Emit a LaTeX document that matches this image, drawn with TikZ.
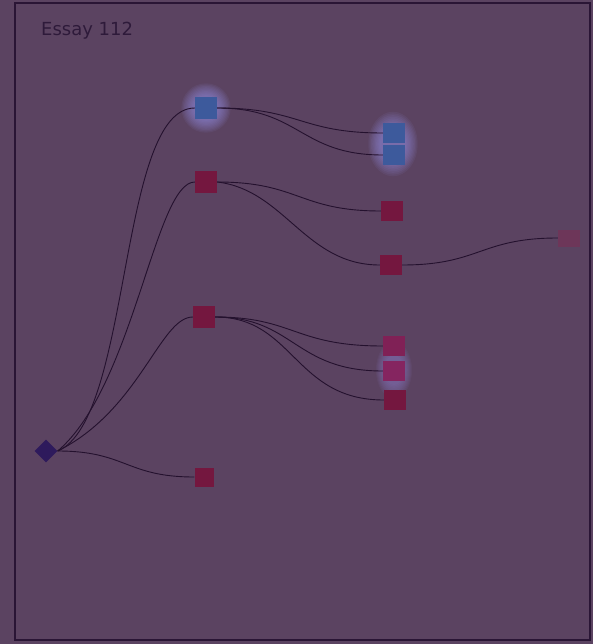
\documentclass[tikz,border=0pt]{standalone}
\usepackage{fontspec}
\setmainfont{DejaVu Sans}
\usetikzlibrary{shapes.geometric}
\definecolor{bgc}{HTML}{5B4361}
\definecolor{framec}{HTML}{2A1535}
\definecolor{edgec}{HTML}{24112E}
\definecolor{bluec}{HTML}{3D5A9C}
\definecolor{redc}{HTML}{74173F}
\definecolor{pinkc}{HTML}{852560}
\definecolor{fadec}{HTML}{6D3659}
\definecolor{rootc}{HTML}{2E1A5C}
\definecolor{glowc}{HTML}{9A96F0}
\definecolor{glowp}{HTML}{8E7CC8}
\definecolor{textc}{HTML}{2E1A3A}
\tikzset{
  box/.style={rectangle, draw=none, minimum width=22pt, minimum height=22pt, inner sep=0pt},
  bluebox/.style={box, fill=bluec},
  redbox/.style={box, fill=redc},
  link/.style={draw=edgec, line width=0.9pt},
  glowlayer/.style={fill=#1, fill opacity=0.075},
}
\begin{document}
\begin{tikzpicture}[x=1pt,y=-1pt]
\useasboundingbox (0,0) rectangle (593,644);
\fill[bgc] (0,0) rectangle (593,644);
\draw[framec, line width=2.2pt] (15,3) rectangle (590,640);
\node[anchor=base west, text=textc, font=\fontsize{18}{21}\selectfont, inner sep=0pt] (title) at (41,36) {Essay 112};
% glows
\foreach \s in {0.5,0.55,...,1.0} {
  \fill[glowlayer=glowc] (206,108) circle ({26*\s});
  \fill[glowlayer=glowc] (393,144) ellipse ({26*\s} and {34*\s});
  \fill[glowlayer=glowp] (394,370) ellipse ({19*\s} and {30*\s});
}
% nodes
\node[diamond, fill=rootc, minimum width=23pt, minimum height=23pt, inner sep=0pt] (root) at (46,451) {};
\node[bluebox] (a) at (206,108) {};
\node[redbox] (b) at (206,182) {};
\node[redbox] (c) at (204,317) {};
\node[redbox, minimum width=19pt, minimum height=19pt] (d) at (204,477) {};
\node[bluebox, minimum height=20pt] (a1) at (394,133) {};
\node[bluebox, minimum height=20pt] (a2) at (394,155) {};
\node[redbox, minimum height=19pt] (b1) at (392,211) {};
\node[redbox, minimum height=20pt] (b2) at (391,265) {};
\node[box, fill=fadec, minimum height=17pt] (e) at (569,238) {};
\node[redbox, fill=pinkc!70!redc, minimum height=20pt] (c1) at (394,346) {};
\node[redbox, fill=pinkc, minimum height=20pt] (c2) at (394,371) {};
\node[redbox, minimum height=20pt] (c3) at (395,400) {};
% edges
\path[link] (root.east) .. controls (132,420) and (118,108) .. (a.west);
\path[link] (root.east) .. controls (134,386) and (155,182) .. (b.west);
\path[link] (root.east) .. controls (140,410) and (160,317) .. (c.west);
\path[link] (root.east) .. controls (126,451) and (126,477) .. (d.west);
\path[link] (a.east) .. controls (300,108) and (300,133) .. (a1.west);
\path[link] (a.east) .. controls (300,108) and (300,155) .. (a2.west);
\path[link] (b.east) .. controls (299,182) and (299,211) .. (b1.west);
\path[link] (b.east) .. controls (285,190) and (305,265) .. (b2.west);
\path[link] (b2.east) .. controls (480,265) and (480,238) .. (e.west);
\path[link] (c.east) .. controls (294,317) and (294,346) .. (c1.west);
\path[link] (c.east) .. controls (294,317) and (294,371) .. (c2.west);
\path[link] (c.east) .. controls (294,317) and (294,400) .. (c3.west);
\end{tikzpicture}
\end{document}
